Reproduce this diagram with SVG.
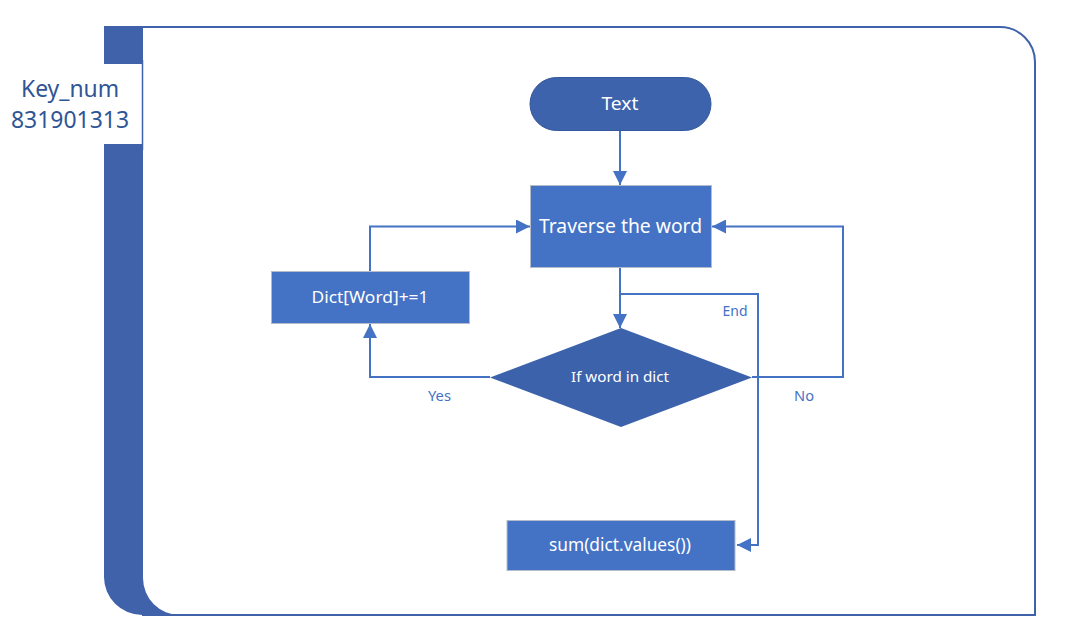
<svg xmlns="http://www.w3.org/2000/svg" width="1090" height="636" viewBox="0 0 1090 636">
<style>
.t{font-family:"Noto Sans","Open Sans","Liberation Sans",sans-serif;fill:#fff;text-anchor:middle}
.lbl{font-family:"Noto Sans","Open Sans","Liberation Sans",sans-serif;fill:#4472C4;text-anchor:middle;font-size:15px}
.key{font-family:"Noto Sans","Open Sans","Liberation Sans",sans-serif;fill:#2F5597;text-anchor:middle;font-size:23px}
.box{fill:#4472C4;stroke:#B4BCCB;stroke-width:1}
.dark{fill:#3D63AC;stroke:#35589C;stroke-width:1}
.c{fill:none;stroke:#4472C4;stroke-width:2}
</style>
<defs>
<marker id="ah" markerUnits="userSpaceOnUse" markerWidth="14" markerHeight="14" refX="14" refY="7" orient="auto">
<path d="M0,0 L14,7 L0,14 Z" fill="#4472C4"/>
</marker>
</defs>
<rect width="1090" height="636" fill="#fff"/>
<g id="frame">
<path d="M104,26 H143 V578 A37,37 0 0 0 180,615 H142 A38,38 0 0 1 104,577 Z" fill="#3F62AB"/>
<rect x="103" y="64" width="39" height="80" fill="#fff"/>
<path d="M104,27 H1000 A35,35 0 0 1 1035,62 V615 H142" fill="none" stroke="#3F62AB" stroke-width="2"/>
<line x1="142.5" y1="60" x2="142.5" y2="150" stroke="#3F62AB" stroke-width="1.5"/>
<text class="key" x="70" y="97" textLength="98" lengthAdjust="spacingAndGlyphs">Key_num</text>
<text class="key" x="70" y="128" textLength="118" lengthAdjust="spacingAndGlyphs">831901313</text>
</g>
<g id="connectors">
<line class="c" x1="620" y1="131" x2="620" y2="185" marker-end="url(#ah)"/>
<line class="c" x1="620" y1="268" x2="620" y2="328" marker-end="url(#ah)"/>
<polyline class="c" points="620,294 758,294 758,545 737,545" marker-end="url(#ah)"/>
<polyline class="c" points="752,377 843,377 843,226.5 712,226.5" marker-end="url(#ah)"/>
<polyline class="c" points="490,377 370,377 370,324" marker-end="url(#ah)"/>
<polyline class="c" points="370,272 370,226.5 530,226.5" marker-end="url(#ah)"/>
<text class="lbl" x="735" y="316" textLength="25" lengthAdjust="spacingAndGlyphs">End</text>
<text class="lbl" x="804" y="401" textLength="20" lengthAdjust="spacingAndGlyphs">No</text>
<text class="lbl" x="439.5" y="401" textLength="23" lengthAdjust="spacingAndGlyphs">Yes</text>
</g>
<g id="start">
<rect class="dark" x="530" y="77.5" width="181" height="53" rx="26.5"/>
<text class="t" x="620" y="110" font-size="18" textLength="37" lengthAdjust="spacingAndGlyphs">Text</text>
</g>
<g id="traverse">
<rect class="box" x="530.5" y="185.5" width="181" height="82"/>
<text class="t" x="620.5" y="233" font-size="19.5" textLength="163" lengthAdjust="spacingAndGlyphs">Traverse the word</text>
</g>
<g id="increment">
<rect class="box" x="271.5" y="271.5" width="198" height="52"/>
<text class="t" x="370" y="303" font-size="17" textLength="117" lengthAdjust="spacingAndGlyphs">Dict[Word]+=1</text>
</g>
<g id="decision">
<polygon points="621,328 752,377.5 621,427 490,377.5" fill="#3C62AB"/>
<text class="t" x="620" y="382" font-size="15" textLength="98" lengthAdjust="spacingAndGlyphs">If word in dict</text>
</g>
<g id="sum">
<rect class="box" x="507" y="520.5" width="228" height="50"/>
<text class="t" x="620" y="551" font-size="18" textLength="142" lengthAdjust="spacingAndGlyphs">sum(dict.values())</text>
</g>
</svg>
